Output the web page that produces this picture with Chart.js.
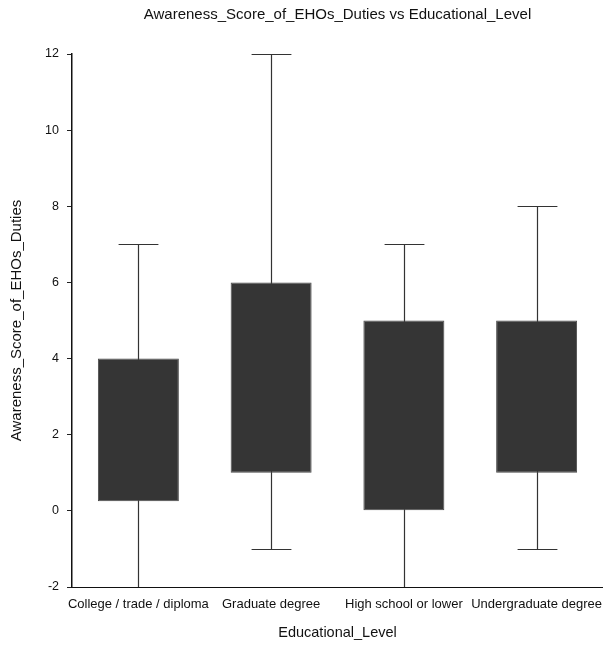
<!DOCTYPE html>
<html>
<head>
<meta charset="utf-8">
<script src="https://cdn.jsdelivr.net/npm/chart.js@4"></script>
<style>
	html, body { margin: 0; padding: 0; background: #fff; }
	#wrap { width: 603px; height: 645px; }
</style>
</head>
<body>
<div id="wrap"><canvas id="chart-area" width="603" height="645"></canvas></div>
<script>
	//box plot data
	var categories = ["College / trade / diploma", "Graduate degree", "High school or lower", "Undergraduate degree"];
	var whiskerLow = [-2, -1, -2, -1];
	var boxLow = [0.25, 1, 0, 1];
	var boxHigh = [4, 6, 5, 5];
	var whiskerHigh = [7, 12, 7, 8];
	var yTicks = [-2, 0, 2, 4, 6, 8, 10, 12];

	init();

function init () {
	boxChart();
}

function boxChart () {
	var boxes = [];
	for (var i = 0; i < categories.length; i++) {
		boxes.push([boxLow[i], boxHigh[i]]);
	}

	// whiskers drawn under the boxes
	var whiskers = {
		id: 'whiskers',
		beforeDatasetsDraw: function (chart) {
			var ctx = chart.ctx;
			var x = chart.scales.x;
			var y = chart.scales.y;
			var cap = x.width / categories.length * 0.3;
			ctx.save();
			ctx.strokeStyle = '#333';
			ctx.lineWidth = 1.2;
			for (var i = 0; i < categories.length; i++) {
				var cx = Math.round(x.getPixelForValue(i)) + 0.5;
				var yl = y.getPixelForValue(whiskerLow[i]);
				var yh = Math.round(y.getPixelForValue(whiskerHigh[i])) + 0.5;
				ctx.beginPath();
				ctx.moveTo(cx, yl);
				ctx.lineTo(cx, yh);
				ctx.moveTo(cx - cap / 2, yh);
				ctx.lineTo(cx + cap / 2, yh);
				if (whiskerLow[i] > y.min) {
					yl = Math.round(yl) + 0.5;
					ctx.moveTo(cx - cap / 2, yl);
					ctx.lineTo(cx + cap / 2, yl);
				}
				ctx.stroke();
			}
			ctx.restore();
		}
	};

	var config = {
		type: 'bar',
		data: {
			labels: categories,
			datasets: [{
				data: boxes,
				backgroundColor: '#353535',
				borderColor: '#4a4a4a',
				borderWidth: 1,
				borderSkipped: false,
				categoryPercentage: 1,
				barPercentage: 0.61
			}]
		},
		options: {
			responsive: false,
			animation: false,
			layout: { padding: { left: 2, right: 0, top: 0, bottom: 0 } },
			plugins: {
				legend: { display: false },
				tooltip: { enabled: false },
				title: {
					display: true,
					fullSize: false,
					text: 'Awareness_Score_of_EHOs_Duties vs Educational_Level',
					color: '#111',
					font: { family: 'Liberation Sans', size: 15, weight: 'normal' },
					padding: { top: 6, bottom: 30 }
				}
			},
			scales: {
				x: {
					afterFit: function (axis) {
						axis.height = 58;
						axis.paddingLeft = 0;
						axis.paddingRight = 0;
					},
					grid: { display: false, drawOnChartArea: false, drawTicks: true, tickLength: 5, tickColor: '#222' },
					border: { color: '#111', width: 1 },
					ticks: {
						color: '#111',
						padding: 5,
						maxRotation: 0,
						autoSkip: false,
						font: { family: 'Liberation Sans', size: 13 }
					},
					title: {
						display: true,
						text: 'Educational_Level',
						color: '#111',
						font: { family: 'Liberation Sans', size: 14.5 },
						padding: { top: 8, bottom: 3 }
					}
				},
				y: {
					min: -2,
					max: 12,
					afterBuildTicks: function (axis) {
						axis.ticks = yTicks.map(function (v) { return { value: v }; });
					},
					afterFit: function (axis) { axis.width = 70; },
					grid: { display: true, drawOnChartArea: false, drawTicks: true, tickLength: 5, tickColor: '#222' },
					border: { color: '#111', width: 1.5 },
					ticks: {
						color: '#111',
						padding: 8,
						font: { family: 'Liberation Sans', size: 12.5 }
					},
					title: {
						display: true,
						text: 'Awareness_Score_of_EHOs_Duties',
						color: '#111',
						font: { family: 'Liberation Sans', size: 15 },
						padding: { top: 6, bottom: 6 }
					}
				}
			}
		},
		plugins: [whiskers]
	};

	var ctx = document.getElementById("chart-area").getContext("2d");
	window.myBox = new Chart(ctx, config);
}
</script>
</body>
</html>
